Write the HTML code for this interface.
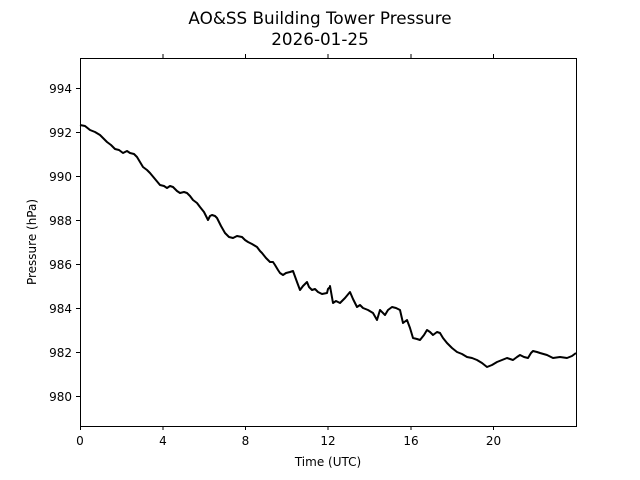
<!DOCTYPE html>
<html><head><style>body{margin:0;background:#fff}svg{display:block}text{font-family:"DejaVu Sans","Liberation Sans",sans-serif;fill:#000}</style></head>
<body>
<svg width="640" height="480" viewBox="0 0 640 480">
<text x="320" y="24" font-size="16.8" text-anchor="middle">AO&amp;SS Building Tower Pressure</text>
<text x="320" y="45" font-size="16.8" text-anchor="middle">2026-01-25</text>
<polyline fill="none" stroke="#000" stroke-width="2" stroke-linejoin="round" points="80,125 85,126 90,130 95,132 100,135 107,142 111,145 115,149 119,150 123,153 127,151 130,153 134,154 137,157 140,162 143,167 147,170 150,173 155,179 160,185 164,186 167,188 170,186 173,187 177,191 180,193 184,192 187,193 190,196 193,200 197,203 200,207 204,212 208,220 210,216 212,215 215,216 217,218 221,226 225,233 229,237 233,238 237,236 242,237 245,240 248,242 252,244 257,247 260,251 262,253 266,258 270,262 273,262 275,265 278,270 280,273 283,275 286,273 290,272 293,271 297,282 300,290 303,286 307,282 309,287 312,290 315,289 318,292 322,294 327,293 328,289 330,287 330,286 333,303 336,301 340,303 345,298 350,292 353,299 357,307 360,305 363,308 368,310 373,313 377,320 380,310 385,315 388,310 392,307 396,308 400,310 403,323 407,320 410,328 413,338 417,339 420,340 424,335 427,330 430,332 433,335 437,332 440,333 443,338 447,343 452,348 457,352 462,354 467,357 472,358 477,360 482,363 487,367 492,365 497,362 502,360 507,358 510,359 513,360 517,357 520,355 524,357 528,358 531,353 533,351 537,352 540,353 547,355 553,358 560,357 567,358 572,356 576,353"/>
<rect x="80.5" y="58.5" width="496" height="368" fill="none" stroke="#000" stroke-width="1"/>
<g stroke="#000" stroke-width="1">
<line x1="80.5" y1="426" x2="80.5" y2="430"/><line x1="163" y1="426" x2="163" y2="430"/><line x1="245.5" y1="426" x2="245.5" y2="430"/><line x1="328" y1="426" x2="328" y2="430"/><line x1="411" y1="426" x2="411" y2="430"/><line x1="493.5" y1="426" x2="493.5" y2="430"/>
<line x1="163" y1="58" x2="163" y2="54"/><line x1="245.5" y1="58" x2="245.5" y2="54"/><line x1="328" y1="58" x2="328" y2="54"/><line x1="411" y1="58" x2="411" y2="54"/><line x1="493.5" y1="58" x2="493.5" y2="54"/>
<line x1="76" y1="88.5" x2="80" y2="88.5"/><line x1="76" y1="132.5" x2="80" y2="132.5"/><line x1="76" y1="176.5" x2="80" y2="176.5"/><line x1="76" y1="220.5" x2="80" y2="220.5"/><line x1="76" y1="264.5" x2="80" y2="264.5"/><line x1="76" y1="308.5" x2="80" y2="308.5"/><line x1="76" y1="352.5" x2="80" y2="352.5"/><line x1="76" y1="396.5" x2="80" y2="396.5"/>
</g>
<g font-size="12" text-anchor="middle">
<text x="80" y="445">0</text><text x="163" y="445">4</text><text x="245.5" y="445">8</text><text x="328" y="445">12</text><text x="411" y="445">16</text><text x="493.5" y="445">20</text>
<text x="328" y="466">Time (UTC)</text>
</g>
<g font-size="12" text-anchor="end">
<text x="72" y="93">994</text><text x="72" y="137">992</text><text x="72" y="181">990</text><text x="72" y="225">988</text><text x="72" y="269">986</text><text x="72" y="313">984</text><text x="72" y="357">982</text><text x="72" y="401">980</text>
</g>
<text transform="translate(36,242) rotate(-90)" font-size="12" text-anchor="middle">Pressure (hPa)</text>
</svg>
</body></html>
